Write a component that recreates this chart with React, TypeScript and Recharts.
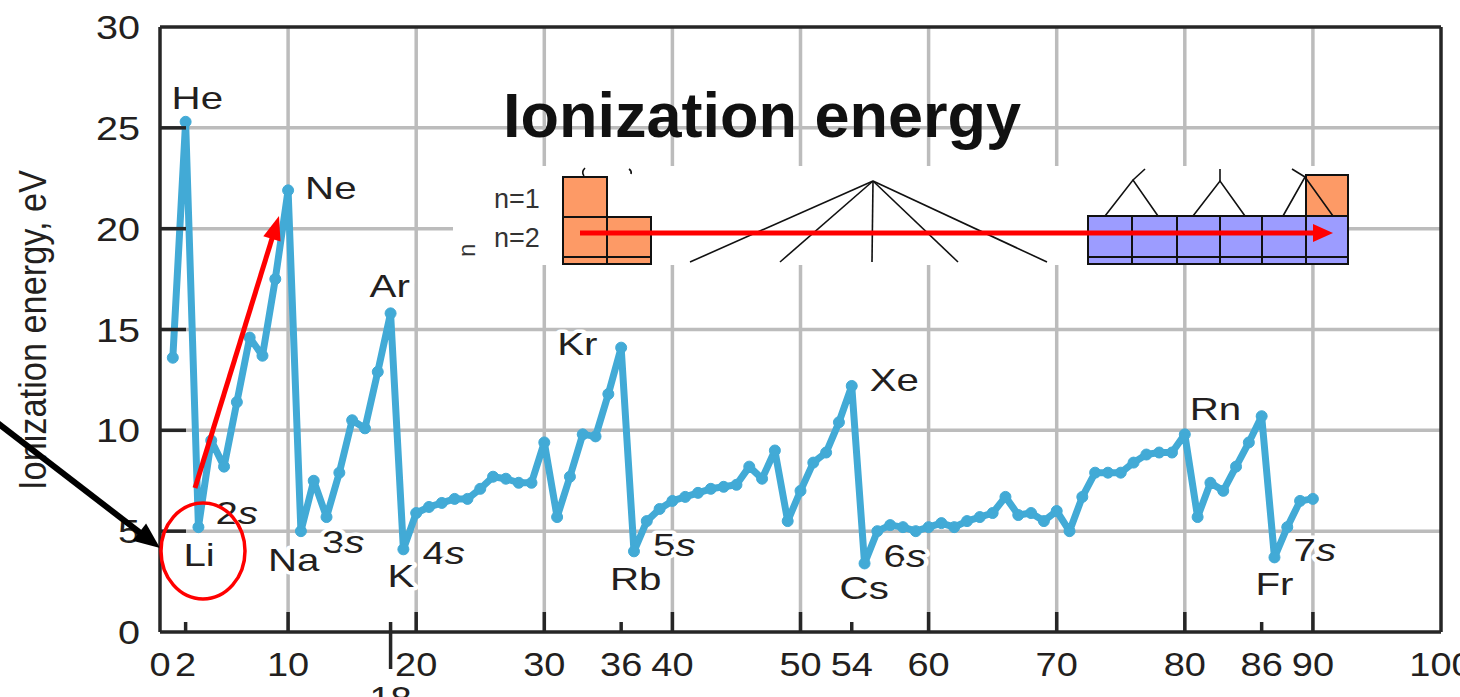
import React from 'react';
import { LineChart, Line, XAxis, YAxis, ReferenceLine } from 'recharts';

// atomic number (category) and first ionization energy, eV
const atomicNumber = [
  1, 2, 3, 4, 5, 6, 7, 8, 9, 10,
  11, 12, 13, 14, 15, 16, 17, 18, 19, 20,
  21, 22, 23, 24, 25, 26, 27, 28, 29, 30,
  31, 32, 33, 34, 35, 36, 37, 38, 39, 40,
  41, 42, 43, 44, 45, 46, 47, 48, 49, 50,
  51, 52, 53, 54, 55, 56, 57, 58, 59, 60,
  61, 62, 63, 64, 65, 66, 67, 68, 69, 70,
  71, 72, 73, 74, 75, 76, 77, 78, 79, 80,
  81, 82, 83, 84, 85, 86, 87, 88, 89, 90,
];
const ionizationEnergy = [
  13.6, 25.3, 5.2, 9.5, 8.2, 11.4, 14.6, 13.7, 17.5, 21.9,
  5.0, 7.5, 5.7, 7.9, 10.5, 10.1, 12.9, 15.8, 4.1, 5.9,
  6.2, 6.4, 6.6, 6.6, 7.1, 7.7, 7.6, 7.4, 7.4, 9.4,
  5.7, 7.7, 9.8, 9.7, 11.8, 14.1, 4.0, 5.5, 6.1, 6.5,
  6.7, 6.9, 7.1, 7.2, 7.3, 8.2, 7.6, 9.0, 5.5, 7.0,
  8.4, 8.9, 10.4, 12.2, 3.4, 5.0, 5.3, 5.2, 5.0, 5.2,
  5.4, 5.2, 5.5, 5.7, 5.9, 6.7, 5.8, 5.9, 5.5, 6.0,
  5.0, 6.7, 7.9, 7.9, 7.9, 8.4, 8.8, 8.9, 8.9, 9.8,
  5.7, 7.4, 7.0, 8.2, 9.4, 10.7, 3.7, 5.2, 6.5, 6.6,
];

const xTicks = [0, 2, 10, 18, 20, 30, 36, 40, 50, 54, 60, 70, 80, 86, 90, 100];
const yTicks = [0, 5, 10, 15, 20, 25, 30];
const gridX = [10, 20, 30, 40, 50, 60, 70, 80, 90];
const gridY = [5, 10, 15, 20, 25];
const shortTicks = [2, 36, 54, 86];

// labelled elements and the s-shell that starts with them
const elementZ = [2, 10, 18, 36, 54, 86, 3, 11, 19, 37, 55, 87];
const elementName = ['He', 'Ne', 'Ar', 'Kr', 'Xe', 'Rn', 'Li', 'Na', 'K', 'Rb', 'Cs', 'Fr'];
const shellZ = [3, 11, 19, 37, 55, 87];
const shellN = ['2', '3', '4', '5', '6', '7'];

// label placement relative to the point (px)
const NAME_OFFSET: Record<string, [number, number]> = {
  He: [-14, -24], Ne: [17, -2], Ar: [-21, -27], Kr: [-64, -4], Xe: [18, -6], Rn: [-72, -7],
  Li: [-15, 28], Na: [-33, 29], K: [-16, 27], Rb: [-24, 28], Cs: [-25, 25], Fr: [-19, 27],
};
const SHELL_OFFSET: [number, number][] = [[17, -14], [21, 11], [19, 4], [19, -6], [19, -7], [19, -7]];

const data = atomicNumber.map((z, i) => ({ z, ie: ionizationEnergy[i] }));

const FONT = '"Liberation Sans", Arial, Helvetica, sans-serif';
const TEXT = '#231f20';
const LINE = '#42aad6';
const GRID = '#bcbcbc';
const FRAME = '#262626';
const AXIS_Y = 632;

const halo = { stroke: '#fff', strokeWidth: 7, strokeLinejoin: 'round' as const, paintOrder: 'stroke' as const };

const XTick = ({ x, payload }: any) => {
  const v = payload.value;
  let y1 = AXIS_Y;
  let y2 = AXIS_Y - 20;
  if (shortTicks.includes(v)) y2 = AXIS_Y - 10;
  if (v === 18) {
    y1 = AXIS_Y + 37;
    y2 = AXIS_Y - 10;
  }
  const ty = v === 18 ? 710 : 676;
  return (
    <g>
      {v !== 0 && v !== 100 && <line x1={x} x2={x} y1={y1} y2={y2} stroke={FRAME} strokeWidth={3.5} />}
      <text transform={`translate(${x},${ty}) scale(1.15,1)`} textAnchor="middle" fontSize={33} fill={TEXT} fontFamily={FONT}>
        {v}
      </text>
    </g>
  );
};

const YTick = ({ y, payload }: any) => {
  const v = payload.value;
  return (
    <g>
      {v > 0 && v < 30 && <line x1={160} x2={186} y1={y} y2={y} stroke={FRAME} strokeWidth={3.5} />}
      <text transform={`translate(140,${y + 12}) scale(1.2,1)`} textAnchor="end" fontSize={33} fill={TEXT} fontFamily={FONT}>
        {v}
      </text>
    </g>
  );
};

// element / shell labels, drawn below the curve so their halo only breaks the grid
const renderLabels = (p: any) => {
  const { cx, cy, index, payload } = p;
  const ei = elementZ.indexOf(payload.z);
  const si = shellZ.indexOf(payload.z);
  return (
    <g key={`lab-${index}`}>
      {ei >= 0 && (
        <text
          transform={`translate(${cx + NAME_OFFSET[elementName[ei]][0]},${cy + NAME_OFFSET[elementName[ei]][1] + 11}) scale(1.3,1)`}
          fontSize={31} fill={TEXT} fontFamily={FONT} {...halo}
        >
          {elementName[ei]}
        </text>
      )}
      {si >= 0 && (
        <text
          transform={`translate(${cx + SHELL_OFFSET[si][0]},${cy + SHELL_OFFSET[si][1] + 11}) scale(1.3,1)`}
          fontSize={31} fill={TEXT} fontFamily={FONT} {...halo}
        >
          {shellN[si]}
          <tspan fontStyle="italic">s</tspan>
        </text>
      )}
    </g>
  );
};

const Arrow = ({ x1, y1, x2, y2, color, width, head, half }: any) => {
  const dx = x2 - x1;
  const dy = y2 - y1;
  const len = Math.hypot(dx, dy);
  const ux = dx / len;
  const uy = dy / len;
  const bx = x2 - ux * head;
  const by = y2 - uy * head;
  const pts = `${x2},${y2} ${bx - uy * half},${by + ux * half} ${bx + uy * half},${by - ux * half}`;
  return (
    <g>
      <line x1={x1} y1={y1} x2={bx + ux * 2} y2={by + uy * 2} stroke={color} strokeWidth={width} />
      <polygon points={pts} fill={color} />
    </g>
  );
};

const ORANGE = '#fd9a66';
const BLUE = '#9c9cff';
const blueCols = [1088, 1132, 1177, 1220, 1262, 1306, 1348];

const Inset = () => (
  <g>
    <rect x={453} y={166} width={895} height={99} fill="#fff" />
    <g fontFamily={FONT} fontSize={27} fill="#333">
      <text x={494} y={208}>n=1</text>
      <text x={494} y={247}>n=2</text>
      <text transform="translate(475,257) rotate(-90)" fontSize={24}>n</text>
    </g>
    <g stroke="#111" strokeWidth={2}>
      <rect x={563} y={177} width={44} height={40} fill={ORANGE} />
      <rect x={563} y={217} width={44} height={40} fill={ORANGE} />
      <rect x={607} y={217} width={44} height={40} fill={ORANGE} />
      <rect x={563} y={257} width={44} height={7} fill={ORANGE} />
      <rect x={607} y={257} width={44} height={7} fill={ORANGE} />
      {blueCols.slice(0, -1).map((c, i) => (
        <g key={c}>
          <rect x={c} y={216} width={blueCols[i + 1] - c} height={41} fill={BLUE} />
          <rect x={c} y={257} width={blueCols[i + 1] - c} height={7} fill={BLUE} />
        </g>
      ))}
      <rect x={1306} y={175} width={42} height={41} fill={ORANGE} />
    </g>
    <g stroke="#111" strokeWidth={1.6} fill="none">
      <path d="M584 176 q-3 -4 1 -8" />
      <path d="M629 169 q3 2 2 5" />
      <line x1={873} y1={181} x2={690} y2={262} />
      <line x1={873} y1={181} x2={780} y2={262} />
      <line x1={873} y1={181} x2={872} y2={262} />
      <line x1={873} y1={181} x2={958} y2={262} />
      <line x1={873} y1={181} x2={1047} y2={262} />
      <polyline points="1105,216 1133,180 1158,216" />
      <line x1={1133} y1={180} x2={1145} y2={169} />
      <polyline points="1193,216 1220,181 1245,216" />
      <line x1={1220} y1={181} x2={1220} y2={169} />
      <polyline points="1283,216 1305,177 1333,216" />
      <line x1={1305} y1={177} x2={1292} y2={169} />
    </g>
  </g>
);

export default function App() {
  return (
    <div style={{ position: 'absolute', left: 0, top: 0, width: 1460, height: 697, overflow: 'hidden', background: '#fff' }}>
      <LineChart width={1460} height={697} data={data} margin={{ top: 27, right: 19, bottom: 0, left: 0 }}>
        {gridX.map((v) => (
          <ReferenceLine key={`gx${v}`} x={v} stroke={GRID} strokeWidth={3.5} />
        ))}
        {gridY.map((v) => (
          <ReferenceLine key={`gy${v}`} y={v} stroke={GRID} strokeWidth={3.5} />
        ))}
        <ReferenceLine x={0} stroke={FRAME} strokeWidth={3.5} />
        <ReferenceLine x={100} stroke={FRAME} strokeWidth={3.5} />
        <ReferenceLine y={0} stroke={FRAME} strokeWidth={3.5} />
        <ReferenceLine y={30} stroke={FRAME} strokeWidth={3.5} />
        <XAxis
          type="number"
          dataKey="z"
          domain={[0, 100]}
          ticks={xTicks}
          interval={0}
          height={65}
          axisLine={false}
          tickLine={false}
          tick={(p: any) => <XTick {...p} />}
        />
        <YAxis
          type="number"
          domain={[0, 30]}
          ticks={yTicks}
          interval={0}
          width={160}
          axisLine={false}
          tickLine={false}
          tick={(p: any) => <YTick {...p} />}
        />
        <Line
          type="linear"
          dataKey="ie"
          stroke="none"
          dot={renderLabels}
          activeDot={false}
          legendType="none"
          isAnimationActive={false}
        />
        <Line
          type="linear"
          dataKey="ie"
          stroke={LINE}
          strokeWidth={7}
          strokeLinejoin="round"
          dot={{ r: 5.5, fill: LINE, stroke: LINE, strokeWidth: 1 }}
          activeDot={false}
          isAnimationActive={false}
        />
      </LineChart>
      <svg width={1460} height={697} style={{ position: 'absolute', left: 0, top: 0, pointerEvents: 'none' }}>
        <Inset />
        <text x={762} y={137} textAnchor="middle" fontSize={63} fontWeight="bold" fill="#111" fontFamily={FONT}>
          Ionization energy
        </text>
        <text
          transform="translate(46,330) scale(1.3,1) rotate(-90)"
          textAnchor="middle"
          fontSize={30}
          fill={TEXT}
          fontFamily={FONT}
          textLength={320}
          lengthAdjust="spacingAndGlyphs"
        >
          Ionization energy, eV
        </text>
        <Arrow x1={195} y1={488} x2={279} y2={216} color="#ff0000" width={5} head={24} half={9} />
        <Arrow x1={580} y1={233} x2={1333} y2={233} color="#ff0000" width={5} head={20} half={9} />
        <Arrow x1={-5} y1={421} x2={160} y2={548} color="#000" width={6} head={26} half={11} />
        <ellipse cx={203} cy={551} rx={42} ry={48} fill="none" stroke="#ff0000" strokeWidth={3.5} />
      </svg>
    </div>
  );
}
